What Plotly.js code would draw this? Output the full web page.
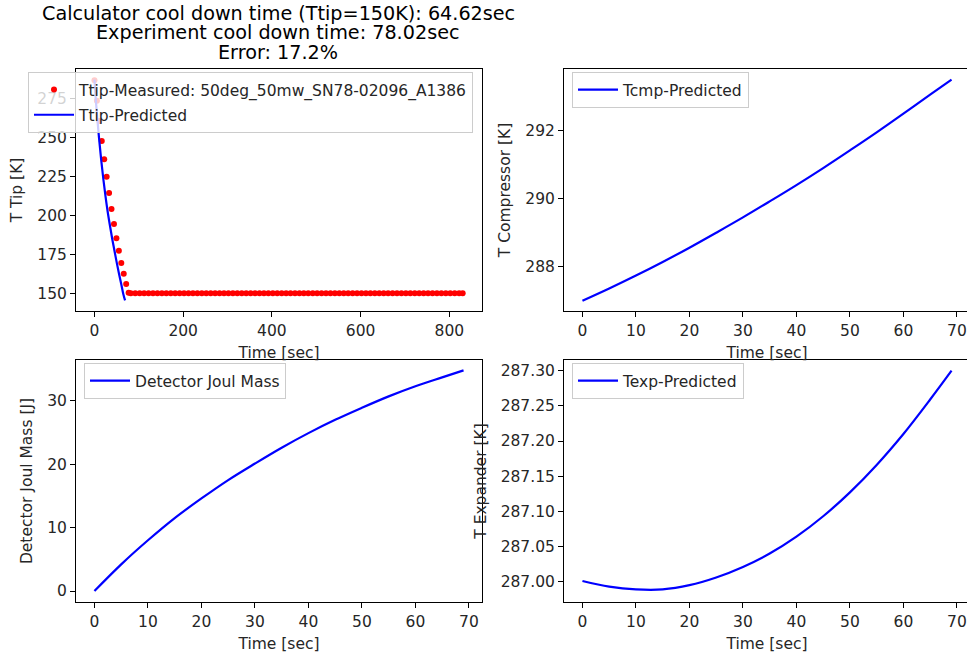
<!DOCTYPE html>
<html>
<head>
<meta charset="utf-8">
<script src="https://cdn.plot.ly/plotly-3.0.1.min.js"></script>
<style>
html,body{margin:0;padding:0;overflow:hidden;background:#fff;}
#chart{width:972px;height:659px;}
</style>
</head>
<body>
<div id="chart"></div>
<script>
// ---- Data ----
const titleLines = [
  "Calculator cool down time (Ttip=150K): 64.62sec",
  "Experiment cool down time: 78.02sec",
  "Error: 17.2%"
];

// Measured tip temperature (red dots)
const tMeasured = [0, 5.5, 11, 16.5, 22, 27.5, 33, 38.5, 44, 49.5, 55, 60.5, 66, 71.5, 77,
  82, 92, 102, 112, 122, 132, 142, 152, 162, 172, 182, 192, 202, 212, 222, 232, 242, 252, 262, 272,
  282, 292, 302, 312, 322, 332, 342, 352, 362, 372, 382, 392, 402, 412, 422, 432, 442, 452, 462, 472,
  482, 492, 502, 512, 522, 532, 542, 552, 562, 572, 582, 592, 602, 612, 622, 632, 642, 652, 662, 672,
  682, 692, 702, 712, 722, 732, 742, 752, 762, 772, 782, 792, 802, 812, 822, 830];
const ttipMeasured = [286.6, 273.5, 260.4, 247.6, 235.9, 224.7, 214.3, 204.0, 194.4, 185.4, 177.3, 169.4, 162.6, 156.0, 150.4,
  150, 150, 150, 150, 150, 150, 150, 150, 150, 150, 150, 150, 150, 150, 150, 150, 150, 150, 150, 150,
  150, 150, 150, 150, 150, 150, 150, 150, 150, 150, 150, 150, 150, 150, 150, 150, 150, 150, 150, 150,
  150, 150, 150, 150, 150, 150, 150, 150, 150, 150, 150, 150, 150, 150, 150, 150, 150, 150, 150, 150,
  150, 150, 150, 150, 150, 150, 150, 150, 150, 150, 150, 150, 150, 150, 150, 150];

// Predicted series (time in sec)
const tPred = [0, 5, 10, 15, 20, 25, 30, 35, 40, 45, 50, 55, 60, 65, 69];
const ttipPred = [287.0, 267.0, 250.5, 236.0, 223.3, 212.0, 202.0, 193.3, 185.0, 177.5, 170.0, 163.0, 156.5, 149.6, 145.5];
const tcmpPred = [287.00, 287.36, 287.74, 288.14, 288.56, 289.00, 289.45, 289.92, 290.40, 290.90, 291.42, 291.95, 292.50, 293.06, 293.50];
const joulMass = [0.0, 4.2, 8.0, 11.5, 14.6, 17.5, 20.1, 22.6, 24.9, 27.0, 28.9, 30.7, 32.3, 33.7, 34.8];
const texpPred = [287.001, 286.993, 286.989, 286.989, 286.995, 287.006, 287.021, 287.040, 287.064, 287.093, 287.127, 287.166, 287.210, 287.259, 287.300];

// Tick labels
const ticksTipX = [0, 200, 400, 600, 800];
const ticksTipY = [150, 175, 200, 225, 250, 275];
const ticksTimeX = [0, 10, 20, 30, 40, 50, 60, 70];
const ticksCmpY = [288, 290, 292];
const ticksJoulY = [0, 10, 20, 30];
const ticksExpY = [287.00, 287.05, 287.10, 287.15, 287.20, 287.25, 287.30];

// ---- Layout helpers ----
const W = 972, H = 659;
const FONT = "DejaVu Sans, Liberation Sans, sans-serif";
const fx = px => px / W;
const fy = px => 1 - px / H;

function xAx(dom, anchor, range, tickvals, title) {
  return {
    domain: [fx(dom[0]), fx(dom[1])], anchor: anchor, range: range,
    tickmode: 'array', tickvals: tickvals,
    showline: true, mirror: true, linecolor: '#000', linewidth: 1,
    ticks: 'outside', ticklen: 5, tickcolor: '#000', tickwidth: 1,
    showgrid: false, zeroline: false,
    tickfont: {family: FONT, size: 15.5, color: '#262626'},
    title: {text: title, font: {family: FONT, size: 15.5, color: '#262626'}, standoff: 8},
    automargin: false
  };
}
function yAx(dom, anchor, range, tickvals, title, fmt) {
  const a = {
    domain: [fy(dom[1]), fy(dom[0])], anchor: anchor, range: range,
    tickmode: 'array', tickvals: tickvals,
    showline: true, mirror: true, linecolor: '#000', linewidth: 1,
    ticks: 'outside', ticklen: 5, tickcolor: '#000', tickwidth: 1,
    showgrid: false, zeroline: false,
    tickfont: {family: FONT, size: 15.5, color: '#262626'},
    title: {text: title, font: {family: FONT, size: 15.5, color: '#262626'}, standoff: 10},
    automargin: false
  };
  if (fmt) a.tickformat = fmt;
  return a;
}
function leg(x, xanchor, ytop) {
  return {
    x: fx(x), xanchor: xanchor, y: fy(ytop), yanchor: 'top',
    bgcolor: 'rgba(255,255,255,0.8)', bordercolor: '#cccccc', borderwidth: 1,
    font: {family: FONT, size: 15.5, color: '#262626'},
    itemwidth: 40, tracegroupgap: 2
  };
}
const blueLine = {color: '#0000ff', width: 2.2, shape: 'spline', smoothing: 1};

const traces = [
  {x: tMeasured, y: ttipMeasured, type: 'scatter', mode: 'markers',
   name: 'Ttip-Measured: 50deg_50mw_SN78-02096_A1386', legendgroup: 'g1',
   marker: {color: '#ff0000', size: 6}, xaxis: 'x', yaxis: 'y', legend: 'legend'},
  {x: tPred, y: ttipPred, type: 'scatter', mode: 'lines', name: 'Ttip-Predicted', legendgroup: 'g2',
   line: blueLine, xaxis: 'x', yaxis: 'y', legend: 'legend'},
  {x: tPred, y: tcmpPred, type: 'scatter', mode: 'lines', name: 'Tcmp-Predicted',
   line: blueLine, xaxis: 'x2', yaxis: 'y2', legend: 'legend2'},
  {x: tPred, y: joulMass, type: 'scatter', mode: 'lines', name: 'Detector Joul Mass',
   line: blueLine, xaxis: 'x3', yaxis: 'y3', legend: 'legend3'},
  {x: tPred, y: texpPred, type: 'scatter', mode: 'lines', name: 'Texp-Predicted',
   line: blueLine, xaxis: 'x4', yaxis: 'y4', legend: 'legend4'}
];

const topRow = [69, 311], botRow = [360, 602];
const leftCol = [76, 482], rightCol = [564, 970];

const layout = {
  width: W, height: H,
  margin: {l: 0, r: 0, t: 0, b: 0, pad: 0},
  paper_bgcolor: '#fff', plot_bgcolor: '#fff',
  font: {family: FONT, color: '#262626'},
  showlegend: true,
  xaxis: xAx(leftCol, 'y', [-41.6, 873.6], ticksTipX, 'Time [sec]'),
  yaxis: yAx(topRow, 'x', [138.7, 293.8], ticksTipY, 'T Tip [K]'),
  xaxis2: xAx(rightCol, 'y2', [-3.45, 72.45], ticksTimeX, 'Time [sec]'),
  yaxis2: yAx(topRow, 'x2', [286.70, 293.81], ticksCmpY, 'T Compressor [K]'),
  xaxis3: xAx(leftCol, 'y3', [-3.45, 72.45], ticksTimeX, 'Time [sec]'),
  yaxis3: yAx(botRow, 'x3', [-1.735, 36.435], ticksJoulY, 'Detector Joul Mass [J]'),
  xaxis4: xAx(rightCol, 'y4', [-3.45, 72.45], ticksTimeX, 'Time [sec]'),
  yaxis4: yAx(botRow, 'x4', [286.9711, 287.3152], ticksExpY, 'T Expander [K]', '.2f'),
  legend: leg(473, 'right', 72),
  legend2: leg(572, 'left', 72),
  legend3: leg(84, 'left', 363),
  legend4: leg(572, 'left', 363),
  annotations: titleLines.map((t, i) => ({
    text: t, xref: 'paper', yref: 'paper', x: fx(278), y: fy(14 + i * 19),
    xanchor: 'center', yanchor: 'middle', showarrow: false,
    font: {family: FONT, size: 19.2, color: '#000'}
  }))
};

Plotly.newPlot('chart', traces, layout, {staticPlot: true, displayModeBar: false});
</script>
</body>
</html>
